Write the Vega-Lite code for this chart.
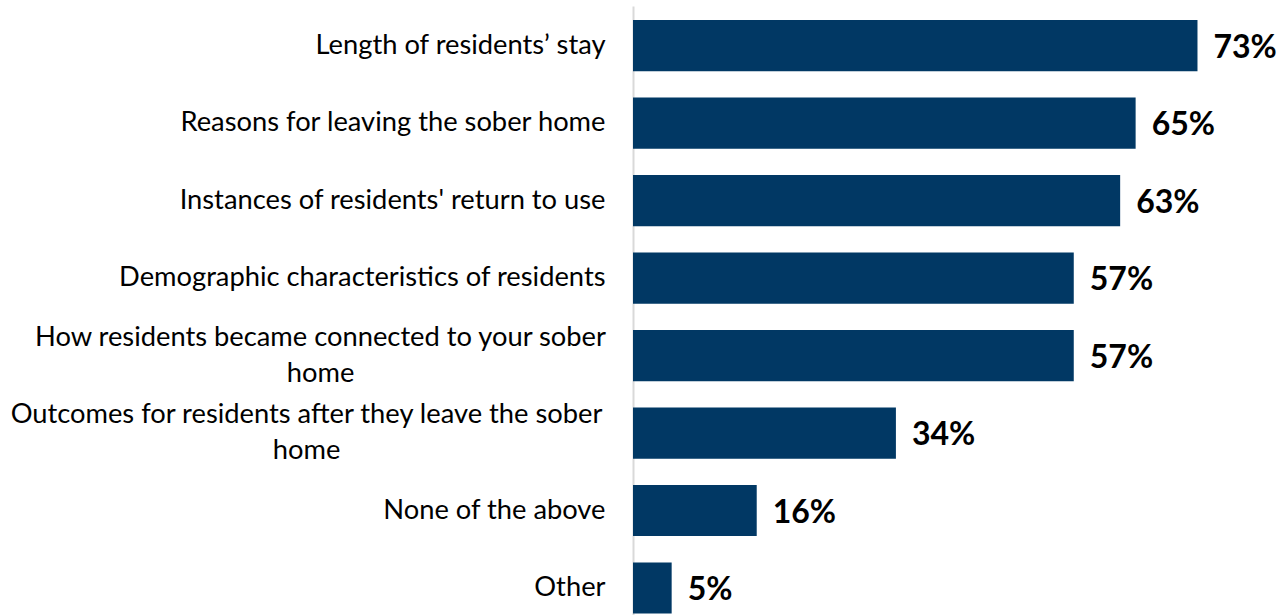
{
  "$schema": "https://vega.github.io/schema/vega-lite/v6.json",
  "autosize": {"type": "none"},
  "padding": {"left": 633, "top": 6, "right": 0, "bottom": 0},
  "width": 648,
  "height": 609,
  "background": "white",
  "config": {"view": {"stroke": null}},
  "data": {"values": [
    {"item": "Length of residents’ stay", "pct": 0.73},
    {"item": "Reasons for leaving the sober home", "pct": 0.65},
    {"item": "Instances of residents' return to use", "pct": 0.63},
    {"item": "Demographic characteristics of residents", "pct": 0.57},
    {"item": "How residents became connected to your sober home", "pct": 0.57},
    {"item": "Outcomes for residents after they leave the sober home", "pct": 0.34},
    {"item": "None of the above", "pct": 0.16},
    {"item": "Other", "pct": 0.05}
  ]},
  "encoding": {
    "y": {
      "field": "item", "type": "nominal", "sort": null,
      "scale": {"paddingInner": 0.34, "paddingOuter": 0.1, "align": 0.91},
      "axis": {
        "title": null, "ticks": false, "tickSize": 0, "grid": false,
        "domainColor": "#D9D9D9", "domainWidth": 2,
        "labelFont": "Lato", "labelFontSize": 27.3, "labelColor": "#000000",
        "labelLineHeight": 36, "labelLimit": 700,
        "labelPadding": {"condition": [
          {"test": "datum.value == 'How residents became connected to your sober home'", "value": 313},
          {"test": "datum.value == 'Outcomes for residents after they leave the sober home'", "value": 327}
        ], "value": 28},
        "labelAlign": {"condition": {"test": "length(datum.value) > 45", "value": "center"}, "value": "right"},
        "labelOffset": {"condition": {"test": "length(datum.value) > 45", "value": -18}, "value": 0},
        "labelExpr": "datum.value == 'How residents became connected to your sober home' ? ['How residents became connected to your sober', 'home'] : datum.value == 'Outcomes for residents after they leave the sober home' ? ['Outcomes for residents after they leave the sober', 'home'] : datum.value"
      }
    },
    "x": {"field": "pct", "type": "quantitative", "scale": {"domain": [0, 0.838]}, "axis": null}
  },
  "layer": [
    {"mark": {"type": "bar", "color": "#013864"}},
    {"mark": {"type": "text", "align": "left", "baseline": "middle", "dx": 16, "dy": 2, "font": "Lato", "fontSize": 32, "fontWeight": "bold", "color": "#000000"},
     "encoding": {"text": {"field": "pct", "type": "quantitative", "format": ".0%"}}}
  ]
}
